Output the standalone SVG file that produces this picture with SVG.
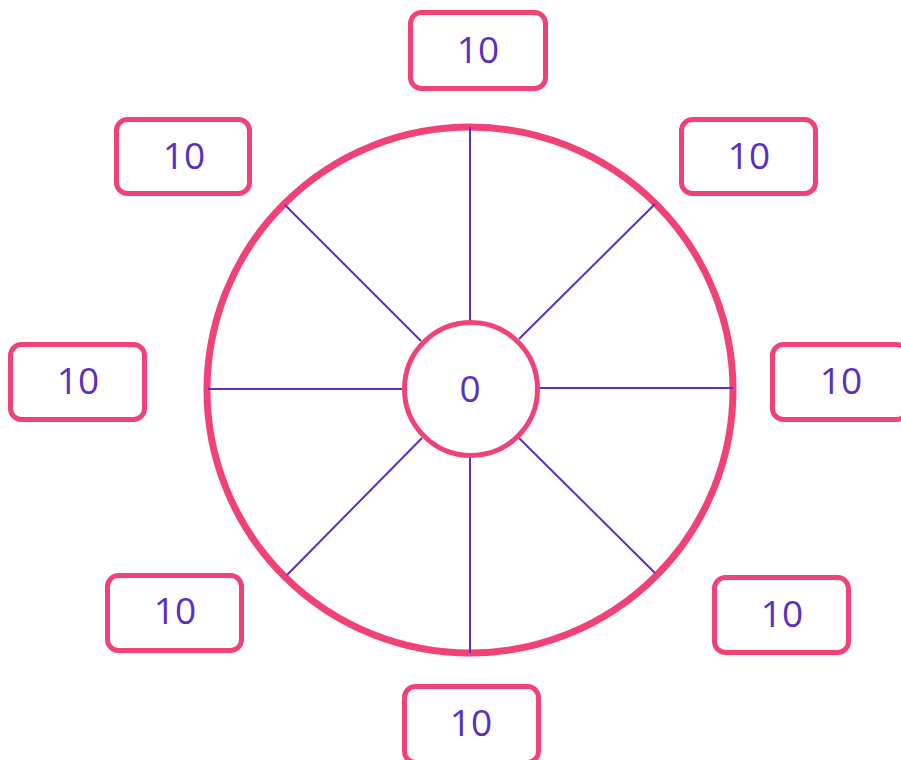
<svg xmlns="http://www.w3.org/2000/svg" width="901" height="760" viewBox="0 0 901 760">
  <style>
    .box { fill: #ffffff; stroke: #f04277; stroke-width: 5; }
    .ring { fill: none; stroke: #f04277; stroke-width: 7; }
    .hub { fill: #ffffff; stroke: #f04277; stroke-width: 5; }
    .spoke { stroke: #5b2fbf; stroke-width: 2; fill: none; }
    .label { font-family: "Open Sans", "Noto Sans", sans-serif; font-size: 37px; fill: #5b2fbf; text-anchor: middle; dominant-baseline: central; }
  </style>
  <rect width="901" height="760" fill="#ffffff"/>

  <!-- wheel rim -->
  <circle class="ring" cx="470" cy="390" r="263"/>

  <!-- spokes -->
  <g id="connectors">
    <line class="spoke" x1="470" y1="127" x2="470" y2="322"/>
    <line class="spoke" x1="470" y1="456" x2="470" y2="653"/>
    <line class="spoke" x1="208" y1="389" x2="404" y2="389"/>
    <line class="spoke" x1="538" y1="388" x2="733" y2="388"/>
    <line class="spoke" x1="285" y1="205" x2="421" y2="341"/>
    <line class="spoke" x1="655" y1="204" x2="519" y2="339"/>
    <line class="spoke" x1="287" y1="575" x2="422" y2="438"/>
    <line class="spoke" x1="655" y1="573" x2="519" y2="438"/>
  </g>

  <!-- hub -->
  <g id="hub">
    <circle class="hub" cx="471" cy="389" r="66.5"/>
    <text class="label" x="470" y="387">0</text>
  </g>

  <!-- outer value boxes -->
  <g id="box-top">
    <rect class="box" x="410.5" y="12.5" width="135" height="76" rx="11"/>
    <text class="label" x="478" y="48">10</text>
  </g>
  <g id="box-top-right">
    <rect class="box" x="681.5" y="119.5" width="134" height="74" rx="11"/>
    <text class="label" x="749" y="154">10</text>
  </g>
  <g id="box-right">
    <rect class="box" x="772.5" y="344.5" width="135" height="75" rx="11"/>
    <text class="label" x="841" y="379">10</text>
  </g>
  <g id="box-bottom-right">
    <rect class="box" x="714.5" y="577.5" width="134" height="75" rx="11"/>
    <text class="label" x="782" y="612">10</text>
  </g>
  <g id="box-bottom">
    <rect class="box" x="404.5" y="686.5" width="134" height="76" rx="11"/>
    <text class="label" x="471" y="721">10</text>
  </g>
  <g id="box-bottom-left">
    <rect class="box" x="107.5" y="575.5" width="134" height="75" rx="11"/>
    <text class="label" x="175" y="609">10</text>
  </g>
  <g id="box-left">
    <rect class="box" x="10.5" y="344.5" width="134" height="75" rx="11"/>
    <text class="label" x="78" y="379">10</text>
  </g>
  <g id="box-top-left">
    <rect class="box" x="116.5" y="119.5" width="133" height="74" rx="11"/>
    <text class="label" x="184" y="154">10</text>
  </g>
</svg>
